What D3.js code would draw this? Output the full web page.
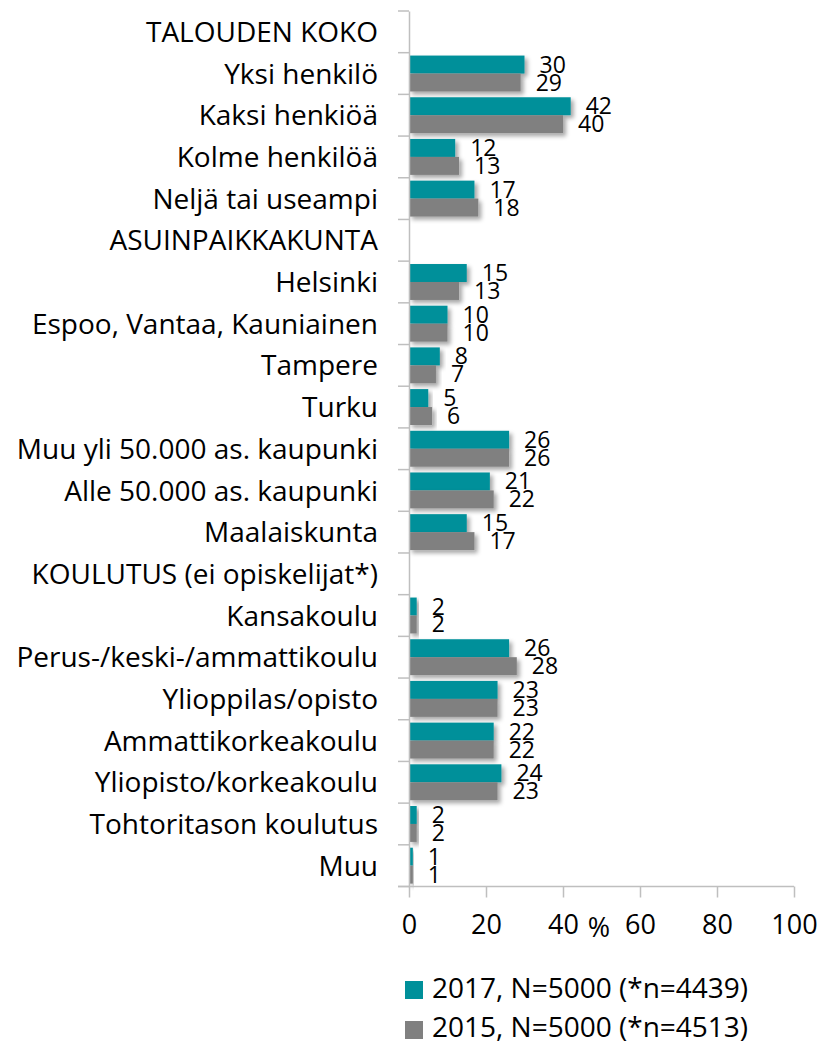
<!DOCTYPE html>
<html>
<head>
<meta charset="utf-8">
<script src="https://cdn.jsdelivr.net/npm/d3@7"></script>
<style>
  body { margin: 0; background: #fff; }
  text { font-family: "Open Sans", sans-serif; fill: #000; }
</style>
</head>
<body>
<div id="chart"></div>
<script>
// categories, top to bottom (headers have no values)
let categories = [
    "TALOUDEN KOKO", "Yksi henkilö", "Kaksi henkiöä", "Kolme henkilöä", "Neljä tai useampi",
    "ASUINPAIKKAKUNTA", "Helsinki", "Espoo, Vantaa, Kauniainen", "Tampere", "Turku",
    "Muu yli 50.000 as. kaupunki", "Alle 50.000 as. kaupunki", "Maalaiskunta",
    "KOULUTUS (ei opiskelijat*)", "Kansakoulu", "Perus-/keski-/ammattikoulu", "Ylioppilas/opisto",
    "Ammattikorkeakoulu", "Yliopisto/korkeakoulu", "Tohtoritason koulutus", "Muu"
];
let values_2017 = [null, 30, 42, 12, 17, null, 15, 10, 8, 5, 26, 21, 15, null, 2, 26, 23, 22, 24, 2, 1];
let values_2015 = [null, 29, 40, 13, 18, null, 13, 10, 7, 6, 26, 22, 17, null, 2, 28, 23, 22, 23, 2, 1];
let series = ["2017", "2015"];
let legend_labels = ["2017, N=5000 (*n=4439)", "2015, N=5000 (*n=4513)"];
let x_ticks = [0, 20, 40, 60, 80, 100];

let width_svg = 821;
let height_svg = 1045;
let colors = { "2017": "#00909a", "2015": "#808080" };
let axis_color = "#bfbfbf";

let svg = d3.select("#chart").append("svg")
    .attr("width", width_svg)
    .attr("height", height_svg);

// soft drop shadow like the office chart
let defs = svg.append("defs");
defs.append("filter").attr("id", "shadow")
    .attr("x", "-20%").attr("y", "-20%").attr("width", "140%").attr("height", "160%")
    .append("feDropShadow")
    .attr("dx", 3).attr("dy", 3).attr("stdDeviation", 2)
    .attr("flood-color", "#000").attr("flood-opacity", 0.35);

let x = d3.scaleLinear().domain([0, 100]).range([409, 794]);
let y = d3.scaleBand().domain(d3.range(categories.length)).range([11, 886.5]).padding(0);
let y_inner = d3.scaleBand().domain(series).range([0, y.bandwidth()]).paddingInner(0).paddingOuter(0.16);

// rows of data
let rows = categories.map((c, i) => ({ i: i, name: c, "2017": values_2017[i], "2015": values_2015[i] }));

// bars
let bar_group = svg.append("g");
rows.filter(r => r["2017"] !== null).forEach(r => {
    series.forEach(s => {
        bar_group.append("rect")
            .attr("x", x(0))
            .attr("y", y(r.i) + y_inner(s))
            .attr("width", x(r[s]) - x(0))
            .attr("height", y_inner.bandwidth())
            .attr("fill", colors[s])
            .attr("filter", "url(#shadow)");
    });
});

// value labels
let label_group = svg.append("g");
rows.filter(r => r["2017"] !== null).forEach(r => {
    series.forEach(s => {
        label_group.append("text")
            .attr("x", x(r[s]) + 15)
            .attr("y", y(r.i) + y_inner(s) + y_inner.bandwidth() / 2 + 8)
            .attr("font-size", 23)
            .text(r[s]);
    });
});

// category axis
let left_axis = d3.axisLeft(y).tickSize(0).tickFormat(i => categories[i]);
let yAxis = svg.append("g")
    .attr("transform", `translate(${x(0)},0)`)
    .call(left_axis);
yAxis.select(".domain").attr("stroke", axis_color).attr("stroke-width", 1.5);
yAxis.selectAll("text")
    .attr("x", -31)
    .attr("dy", "0.36em")
    .attr("font-size", 28)
    .attr("font-family", "Open Sans, sans-serif")
    .attr("fill", "#000");
// boundary ticks between categories
svg.append("g").selectAll("line")
    .data(d3.range(categories.length + 1))
    .enter().append("line")
    .attr("x1", x(0) - 11).attr("x2", x(0))
    .attr("y1", d => 11 + d * y.step()).attr("y2", d => 11 + d * y.step())
    .attr("stroke", axis_color).attr("stroke-width", 1.5);

// value axis
let bottom_axis = d3.axisBottom(x).tickValues(x_ticks).tickSize(11).tickPadding(17);
let xAxis = svg.append("g")
    .attr("transform", `translate(0,${y.range()[1]})`)
    .call(bottom_axis);
xAxis.select(".domain").remove();
xAxis.append("line").attr("x1", x(0) - 11).attr("x2", x(100))
    .attr("stroke", axis_color).attr("stroke-width", 1.5);
xAxis.selectAll(".tick line").attr("stroke", axis_color).attr("stroke-width", 1.5);
xAxis.selectAll(".tick text")
    .attr("font-size", 27)
    .attr("font-family", "Open Sans, sans-serif")
    .attr("fill", "#000");

// axis title "%"
svg.append("text")
    .attr("x", 599)
    .attr("y", 937)
    .attr("text-anchor", "middle")
    .attr("font-size", 27)
    .text("%");

// legend
let legend = svg.append("g");
series.forEach((s, i) => {
    legend.append("rect")
        .attr("x", 405).attr("y", 981 + i * 40)
        .attr("width", 18).attr("height", 18)
        .attr("fill", colors[s]);
    legend.append("text")
        .attr("x", 432).attr("y", 998 + i * 39)
        .attr("font-size", 28)
        .text(legend_labels[i]);
});
</script>
</body>
</html>
